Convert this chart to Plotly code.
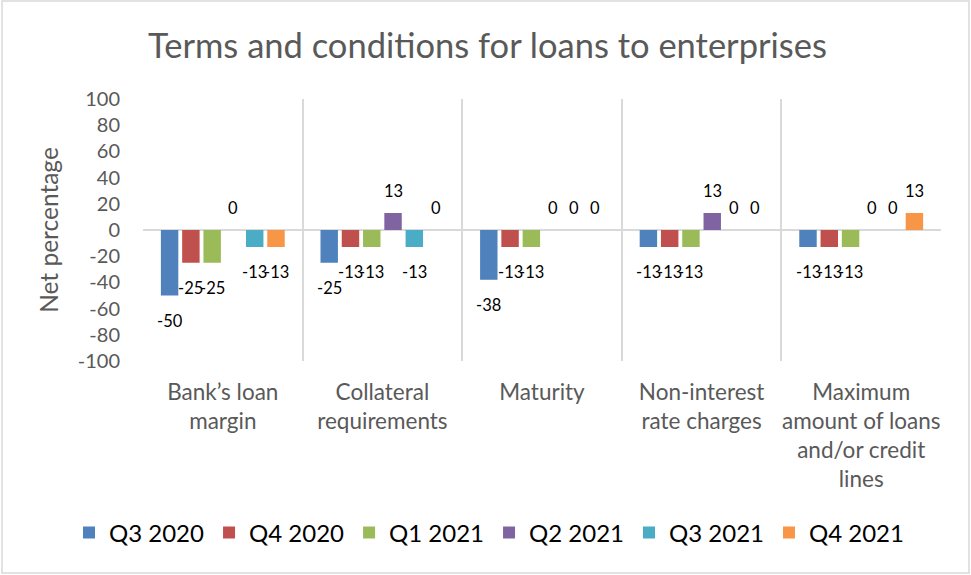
import plotly.graph_objects as go

# Survey categories (x-axis) and quarterly series
categories = [
    "Bank’s loan<br>margin",
    "Collateral<br>requirements",
    "Maturity",
    "Non-interest<br>rate charges",
    "Maximum<br>amount of loans<br>and/or credit<br>lines",
]
series_names = ["Q3 2020", "Q4 2020", "Q1 2021", "Q2 2021", "Q3 2021", "Q4 2021"]
q3_2020 = [-50, -25, -38, -13, -13]
q4_2020 = [-25, -13, -13, -13, -13]
q1_2021 = [-25, -13, -13, -13, -13]
q2_2021 = [0, 13, 0, 13, 0]
q3_2021 = [-13, -13, 0, 0, 0]
q4_2021 = [-13, 0, 0, 0, 13]
y_ticks = [100, 80, 60, 40, 20, 0, -20, -40, -60, -80, -100]

series_values = [q3_2020, q4_2020, q1_2021, q2_2021, q3_2021, q4_2021]
colors = ["#4F81BD", "#C0504D", "#9BBB59", "#8064A2", "#4BACC6", "#F79646"]

FONT = "Lato"
W, H = 971, 575
ML, MR, MT, MB = 143, 30, 99, 214
PW, PH = W - ML - MR, H - MT - MB
BARGAP = 0.2
n = len(series_values)
slot = (1 - BARGAP) / n
xs = list(range(len(categories)))

fig = go.Figure()
annotations = []
for j, (name, vals, col) in enumerate(zip(series_names, series_values, colors)):
    fig.add_trace(go.Bar(
        x=xs, y=vals, name=name, marker=dict(color=col, line=dict(width=0)),
    ))
    off = (j - (n - 1) / 2) * slot
    for i, v in enumerate(vals):
        annotations.append(dict(
            x=i + off, y=v, xref="x", yref="y", text=str(v), showarrow=False,
            yshift=-25 if v < 0 else 22,
            font=dict(family=FONT, size=16.5, color="#000000"),
        ))

# pixel -> paper coordinate helpers
def px_x(p):
    return (p - ML) / PW

def px_y(p):
    return (MT + PH - p) / PH

# outer chart frame
shapes = [dict(
    type="rect", xref="paper", yref="paper",
    x0=px_x(2), x1=px_x(969), y0=px_y(573), y1=px_y(1),
    line=dict(color="#D9D9D9", width=1.5), fillcolor="rgba(0,0,0,0)", layer="below",
)]

fig.update_layout(
    width=W, height=H,
    margin=dict(l=ML, r=MR, t=MT, b=MB, autoexpand=False),
    paper_bgcolor="white", plot_bgcolor="white",
    barmode="group", bargap=BARGAP, bargroupgap=0.18,
    title=dict(
        text="Terms and conditions for loans to enterprises",
        x=(147 + 828) / 2 / W, xref="container", xanchor="center",
        y=1 - 46 / H, yanchor="middle",
        font=dict(family=FONT, size=34.5, color="#595959"),
    ),
    xaxis=dict(
        range=[-0.5, len(categories) - 0.5],
        tickvals=xs, ticktext=categories,
        tickfont=dict(family=FONT, size=22.5, color="#595959"),
        showgrid=False, zeroline=False, showline=False, ticks="",
        ticklabelstandoff=15,
        minor=dict(
            tickvals=[k - 0.5 for k in range(len(categories) + 1)],
            showgrid=True, gridcolor="#D9D9D9", gridwidth=2, ticks="",
        ),
    ),
    yaxis=dict(
        range=[-100, 100], tickvals=y_ticks, ticktext=[str(v) for v in y_ticks],
        tickfont=dict(family=FONT, size=20, color="#595959"),
        showgrid=False, zeroline=True, zerolinecolor="#D9D9D9", zerolinewidth=2,
        showline=False, ticks="", ticklabelstandoff=22,
        title=dict(text="Net percentage", standoff=12,
                   font=dict(family=FONT, size=24.5, color="#595959")),
    ),
    legend=dict(
        orientation="h", xref="paper", yref="paper",
        x=px_x(69), xanchor="left",
        y=px_y(533), yanchor="middle",
        font=dict(family=FONT, size=24, color="#000000"),
        itemwidth=30, tracegroupgap=0,
    ),
    annotations=annotations,
    shapes=shapes,
)

fig.write_html("out.html")
